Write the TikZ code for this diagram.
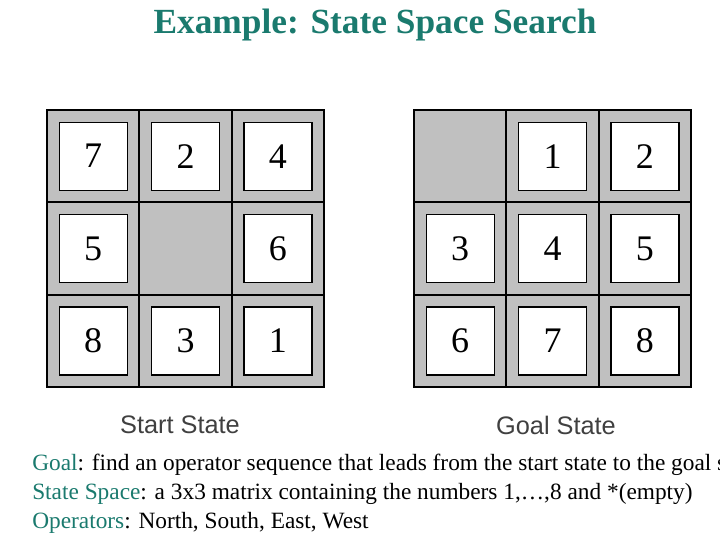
\documentclass[tikz,border=0pt]{standalone}
\usepackage{fontspec}
\setmainfont{Liberation Serif}
\newfontfamily\labelfont{Liberation Sans}
\usetikzlibrary{positioning}
\definecolor{titleteal}{RGB}{26,122,110}
\definecolor{boardgray}{RGB}{192,192,192}
\tikzset{
  board/.style={draw=black,line width=2.2pt,fill=boardgray},
  cellline/.style={draw=black,line width=1.6pt},
  tile/.style={draw=black,line width=1pt,fill=white,minimum size=51pt,inner sep=0pt,font=\fontsize{27}{27}\selectfont},
  caption/.style={font=\labelfont\fontsize{19}{19}\selectfont,text=black!75},
  bodyline/.style={anchor=west,inner sep=0pt,font=\fontsize{17.5}{19}\selectfont}
}
\newcommand{\kw}[1]{\textcolor{titleteal}{#1}}
% #1 = name, #2 = left edge (px), #3 = tile list row by row (0 = blank)
\newcommand{\puzzle}[3]{%
  \draw[board] (#2,110) rectangle ++(277,277);
  \foreach \k in {1,2}{
    \draw[cellline] (#2+92.33*\k,110) -- ++(0,277);
    \draw[cellline] (#2,110+92.33*\k) -- ++(277,0);
  }
  \foreach \v [count=\i from 0] in {#3}{
    \pgfmathtruncatemacro{\c}{mod(\i,3)}
    \pgfmathtruncatemacro{\r}{int(\i/3)}
    \ifnum\v>0
      \node[tile] (#1-\v) at (#2+46.17+92.33*\c,110+46.17+92.33*\r) {\v};
    \fi
  }
}
\begin{document}
\begin{tikzpicture}[x=0.75pt,y=-0.75pt]
  \useasboundingbox (0,0) rectangle (720,540);
  \node (title) at (375,25) [text=titleteal,font=\bfseries\fontsize{26.5}{26.5}\selectfont] {Example: State Space Search};

  \puzzle{start}{47}{7,2,4,5,0,6,8,3,1}
  \puzzle{goal}{414}{0,1,2,3,4,5,6,7,8}

  \node (start-label) at (180,425) [caption] {Start State};
  \node (goal-label) at (556,425) [caption] {Goal State};

  \node (goal-line) at (32,465) [bodyline] {\kw{Goal}: find an operator sequence that leads from the start state to the goal state};
  \node (space-line) at (32,494) [bodyline] {\kw{State Space}: a 3x3 matrix containing the numbers 1,\ldots,8 and *(empty)};
  \node (ops-line) at (32,523) [bodyline] {\kw{Operators}: North, South, East, West};
\end{tikzpicture}
\end{document}
